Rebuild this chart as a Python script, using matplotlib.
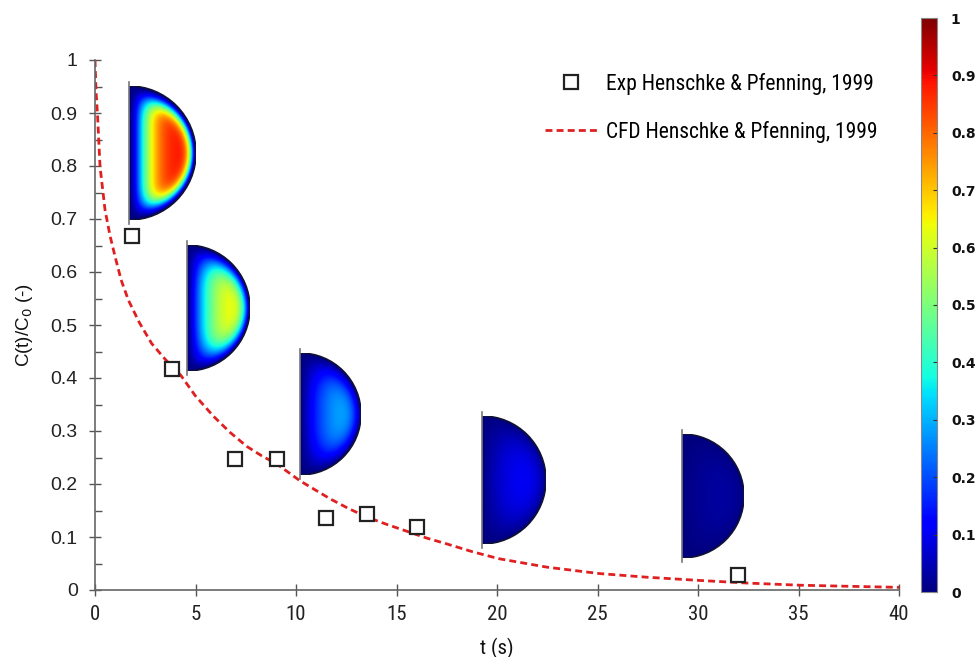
import numpy as np
import matplotlib
matplotlib.use("Agg")
import matplotlib.pyplot as plt
from matplotlib import font_manager
from matplotlib.font_manager import FontProperties
from matplotlib.patches import Wedge, Arc
from matplotlib.lines import Line2D
from matplotlib.ticker import MultipleLocator

# Experimental points (Henschke & Pfenning, 1999)
exp_t = [1.82, 3.85, 6.97, 9.04, 11.48, 13.52, 16.0, 32.0]
exp_c = [0.668, 0.417, 0.248, 0.247, 0.136, 0.143, 0.118, 0.028]

# CFD curve
cfd_t = [0, 0.05, 0.13, 0.25, 0.5, 0.75, 1.0, 1.3, 1.66, 2.2, 2.82, 3.5, 4.27,
         5.0, 5.89, 6.7, 7.55, 8.3, 9.04, 10.2, 11.7, 12.6, 13.5, 14.5, 15.5,
         16.5, 17.5, 18.8, 20.1, 22.5, 25.1, 27.5, 30.1, 32.5, 35.1, 37.5, 40]
cfd_c = [1.0, 0.943, 0.893, 0.799, 0.717, 0.668, 0.629, 0.585, 0.547, 0.505,
         0.465, 0.435, 0.405, 0.366, 0.328, 0.298, 0.271, 0.253, 0.238, 0.206,
         0.172, 0.154, 0.138, 0.124, 0.111, 0.098, 0.087, 0.072, 0.059, 0.043,
         0.031, 0.024, 0.018, 0.013, 0.009, 0.007, 0.005]

# concentration snapshots inside the drop (peak level, wall-layer width, profile sharpness)
snap_peak = [0.90, 0.74, 0.38, 0.16, 0.045]
snap_delta = [0.30, 0.38, 0.45, 0.5, 0.5]
snap_shape = [1.6, 1.3, 1.2, 1.0, 1.0]


def find_condensed():
    prefer = ['Liberation Sans Narrow', 'Roboto Condensed', 'Open Sans Condensed',
              'Noto Sans Condensed', 'DejaVu Sans Condensed']
    fonts = font_manager.fontManager.ttflist
    for name in prefer:
        for f in fonts:
            if f.name == name and f.weight in (400, 'normal') and f.style == 'normal':
                return FontProperties(fname=f.fname)
    for f in fonts:
        if (f.stretch in ('condensed', 'semi-condensed') or 'Condensed' in f.fname
                or 'Narrow' in f.fname) and f.style == 'normal' \
                and f.weight in (400, 'normal') and 'Mono' not in f.fname \
                and 'Serif' not in f.fname and 'CJK' not in f.fname:
            return FontProperties(fname=f.fname)
    return FontProperties(family=['Liberation Sans', 'DejaVu Sans'])


plt.rcParams['font.family'] = ['Liberation Sans', 'DejaVu Sans']
COND = find_condensed()


def cond(size):
    fp = COND.copy()
    fp.set_size(size)
    return fp


W, H = 977, 657
fig = plt.figure(figsize=(W / 100, H / 100), dpi=100)

ax_l, ax_r, ax_b, ax_t = 95, 899, 590, 60
ax = fig.add_axes([ax_l / W, 1 - ax_b / H, (ax_r - ax_l) / W, (ax_b - ax_t) / H])

ax.plot(cfd_t, cfd_c, color='#e02020', lw=2.0, dashes=(2.5, 1.5), zorder=2)
ax.plot(exp_t, exp_c, ls='none', marker='s', ms=10, mfc='white', mec='#222222',
        mew=1.6, zorder=5)

ax.set_xlim(0, 40)
ax.set_ylim(0, 1)
ax.set_xticks(np.arange(0, 41, 5))
ax.set_yticks(np.arange(0, 1.01, 0.1))
ax.yaxis.set_minor_locator(MultipleLocator(0.05))
ax.set_yticklabels(['0'] + [f'{v:.1f}' for v in np.arange(0.1, 0.95, 0.1)] + ['1'],
                   fontsize=14, color='#222222')
ax.set_xticklabels([str(v) for v in range(0, 41, 5)], fontproperties=cond(15),
                   color='#222222')

for s in ['top', 'right']:
    ax.spines[s].set_visible(False)
for s in ['left', 'bottom']:
    ax.spines[s].set_color('#666666')
    ax.spines[s].set_linewidth(1.2)

ax.tick_params(axis='both', which='major', direction='inout', length=9, width=1,
               color='#555555')
ax.tick_params(axis='y', which='minor', direction='in', length=5, width=1, color='#555555')
ax.tick_params(axis='y', which='major', pad=8)
ax.tick_params(axis='x', which='major', pad=6)

ax.set_xlabel('t (s)', fontproperties=cond(15), color='#111111', labelpad=10)
ax.set_ylabel('C(t)/C$_0$ (-)', fontsize=13.5, color='#111111', labelpad=11)

# legend
handles = [
    Line2D([], [], ls='none', marker='s', ms=10, mfc='white', mec='#222222', mew=1.6),
    Line2D([], [], color='#e02020', lw=2.0, dashes=(2.5, 1.5)),
]
labels = ['Exp Henschke & Pfenning, 1999', 'CFD Henschke & Pfenning, 1999']
fig.legend(handles, labels, loc='upper left', bbox_to_anchor=(545 / W, 1 - 73 / H),
           frameon=False, borderpad=0, borderaxespad=0, handlelength=2.4,
           handletextpad=0.45, labelspacing=1.2, prop=cond(15.5))

# semicircle snapshots (flat-edge x, centre y, radius) in pixels
snap_px = [(129, 153, 67), (187, 308, 63), (300, 414, 61), (482, 480, 64), (682, 496, 62)]
n = 200
xx, yy = np.meshgrid(np.linspace(0, 1, n), np.linspace(-1, 1, 2 * n))
rho = np.hypot(xx, yy)
cos2 = (xx / np.maximum(rho, 1e-6)) ** 2
d_flat = xx
d_arc = np.clip(1 - rho, 0, None) * (1.2 + 1.8 * cos2)
for (px, py, r), peak, dl, q in zip(snap_px, snap_peak, snap_delta, snap_shape):
    field = peak * (1 - np.exp(-(d_flat / dl) ** q)) * (1 - np.exp(-(d_arc / dl) ** q))
    iax = fig.add_axes([px / W, 1 - (py + r) / H, r / W, 2 * r / H])
    iax.set_xlim(0, 1)
    iax.set_ylim(-1, 1)
    iax.axis('off')
    im = iax.imshow(field, cmap='jet', vmin=0, vmax=1, extent=[0, 1, -1, 1],
                    origin='lower', aspect='auto', interpolation='bilinear')
    im.set_clip_path(Wedge((0, 0), 1, -90, 90, transform=iax.transData))
    iax.add_patch(Arc((0, 0), 2, 2, theta1=-90, theta2=90, color='#111133', lw=1.2))
    iax.plot([0, 0], [-1.06, 1.06], color='#777777', lw=1.2, clip_on=False)

# colorbar
cax = fig.add_axes([921 / W, 1 - 592 / H, 16 / W, 574 / H])
sm = matplotlib.cm.ScalarMappable(cmap='jet', norm=matplotlib.colors.Normalize(0, 1))
cb = fig.colorbar(sm, cax=cax, ticks=np.arange(0, 1.01, 0.1))
cb.ax.set_yticklabels(['0'] + [f'{v:.1f}' for v in np.arange(0.1, 0.95, 0.1)] + ['1'],
                      family=['DejaVu Sans'], fontweight='bold', fontsize=10,
                      color='#111111')
cb.outline.set_edgecolor('#888888')
cb.outline.set_linewidth(0.8)
cb.ax.tick_params(direction='in', length=3, width=0.8, color='#333333', pad=10)

fig.savefig('out.png', dpi=100)
